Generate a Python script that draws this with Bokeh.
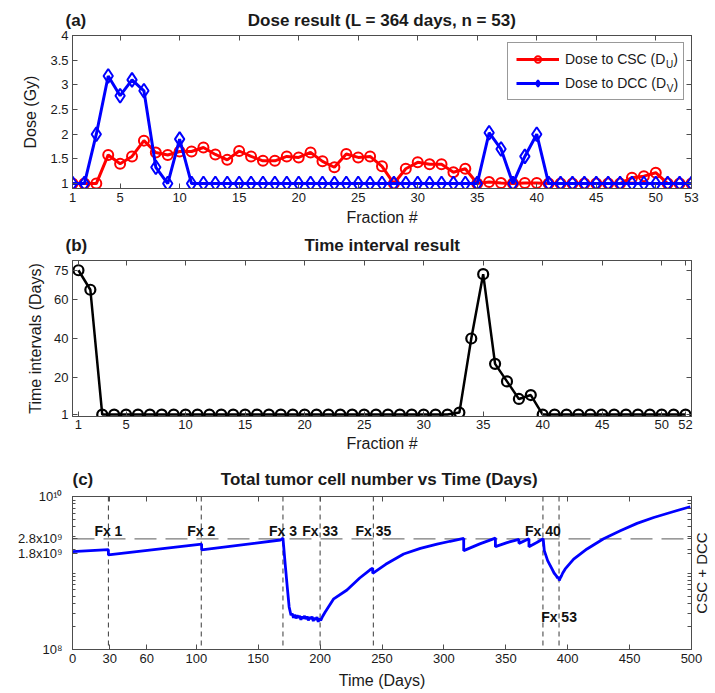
import math
from bokeh.plotting import figure
from bokeh.layouts import column
from bokeh.models import (Range1d, FixedTicker, LinearAxis, LogAxis, Legend, LegendItem,
                          Label, Span)
from bokeh.embed import file_html
from bokeh.resources import INLINE
from bokeh.core.properties import value

# ---------------- data ----------------
# (a) dose per fraction
fractions = list(range(1, 54))
dose_csc = [1.00, 1.00, 1.00, 1.58, 1.40, 1.55, 1.87, 1.63, 1.58, 1.65,
            1.65, 1.73, 1.59, 1.48, 1.66, 1.55, 1.46, 1.46, 1.55, 1.53,
            1.63, 1.45, 1.33, 1.60, 1.53, 1.55, 1.35, 1.00, 1.30, 1.43,
            1.39, 1.39, 1.23, 1.30, 1.00, 1.03, 1.01, 1.00, 1.01, 1.01,
            1.00, 1.00, 1.00, 1.00, 1.00, 1.00, 1.00, 1.12, 1.15, 1.22,
            1.00, 1.00, 1.00]
dose_dcc = [1.00, 1.00, 2.00, 3.18, 2.78, 3.10, 2.88, 1.33, 1.00, 1.90,
            1.00, 1.00, 1.00, 1.00, 1.00, 1.00, 1.00, 1.00, 1.00, 1.00,
            1.00, 1.00, 1.00, 1.00, 1.00, 1.00, 1.00, 1.00, 1.00, 1.00,
            1.00, 1.00, 1.00, 1.00, 1.00, 2.03, 1.70, 1.00, 1.55, 2.00,
            1.00, 1.00, 1.00, 1.00, 1.00, 1.00, 1.00, 1.00, 1.00, 1.00,
            1.00, 1.00, 1.00]
a_xticks = [1, 5, 10, 15, 20, 25, 30, 35, 40, 45, 50, 53]
a_yticks = [1, 1.5, 2, 2.5, 3, 3.5, 4]
a_ytick_labels = ["1", "1.5", "2", "2.5", "3", "3.5", "4"]

# (b) time intervals
interval_idx = list(range(1, 53))
intervals = [75, 65, 1, 1, 1, 1, 1, 1, 1, 1,
             1, 1, 1, 1, 1, 1, 1, 1, 1, 1,
             1, 1, 1, 1, 1, 1, 1, 1, 1, 1,
             1, 1, 2, 40, 73, 27, 18, 9, 11, 1,
             1, 1, 1, 1, 1, 1, 1, 1, 1, 1,
             1, 1]
b_xticks = [1, 5, 10, 15, 20, 25, 30, 35, 40, 45, 50, 52]
b_yticks = [1, 20, 40, 60, 75]

# (c) total tumour cells vs time
days = [0, 29, 29, 104.3, 104.3, 168, 170, 170.5, 172, 173.5, 175, 176.5,
        177.5, 178.5, 179.5, 180.5, 181.5, 182.5, 183.5, 184.5, 185.5, 186.5,
        187.5, 188.5, 189.5, 190.5, 191.5, 192.5, 193.5, 194.5, 195.5, 196.5,
        197.5, 198.5, 199.5, 200.5, 202, 204, 211, 221.7, 232, 240.6, 242.5,
        242.5, 253, 267.5, 281, 294.5, 305, 316, 316, 329, 341.6, 341.6, 351,
        360.6, 360.6, 368.7, 368.7, 375, 380.2, 381.1, 383.8, 387.3, 389,
        390.8, 391.8, 392.6, 393.2, 394, 395, 396, 398, 404.8, 415.6, 429,
        442.5, 456, 469.5, 483, 499]
cells = [1.90e9, 2.02e9, 1.72e9, 2.39e9, 2.00e9, 2.70e9, 2.86e9, 2.30e9, 1.20e9, 6.5e8, 3.6e8, 2.8e8,
         2.95e8, 2.60e8, 2.85e8, 2.55e8, 2.80e8, 2.60e8, 2.75e8, 2.45e8, 2.70e8, 2.55e8,
         2.75e8, 2.50e8, 2.70e8, 2.40e8, 2.65e8, 2.50e8, 2.70e8, 2.35e8, 2.60e8, 2.45e8,
         2.65e8, 2.30e8, 2.55e8, 2.40e8, 2.70e8, 3.07e8, 4.6e8, 6.0e8, 8.6e8, 1.11e9, 1.16e9,
         9.9e8, 1.30e9, 1.77e9, 2.10e9, 2.39e9, 2.60e9, 2.83e9, 1.96e9, 2.40e9, 2.86e9, 2.21e9, 2.50e9,
         2.75e9, 2.44e9, 2.80e9, 2.21e9, 2.50e9, 2.80e9, 1.96e9, 1.45e9, 1.13e9, 1.00e9,
         9.2e8, 8.6e8, 8.9e8, 8.0e8, 8.6e8, 9.2e8, 1.00e9, 1.13e9, 1.52e9, 2.06e9, 2.80e9,
         3.56e9, 4.45e9, 5.32e9, 6.18e9, 7.35e9]
fx_names = ["Fx 1", "Fx 2", "Fx 3", "Fx 33", "Fx 35", "Fx 40", "Fx 53"]
fx_days = [29, 104, 170, 200, 243, 380, 393]
fx_text_y = [3.56e9, 3.56e9, 3.56e9, 3.56e9, 3.56e9, 3.56e9, 2.64e8]
threshold = 2.8e9
c_xticks = [0, 30, 60, 100, 150, 200, 250, 300, 350, 400, 450, 500]
c_yticks = [1e8, 1.8e9, 2.8e9, 1e10]
c_ytick_labels = ["10\u2078", "1.8x10\u2079", "2.8x10\u2079", "10\u00b9\u2070"]
c_yminor = [2e8, 3e8, 4e8, 5e8, 6e8, 7e8, 8e8, 9e8, 1e9,
            2e9, 3e9, 4e9, 5e9, 6e9, 7e9, 8e9, 9e9]

# ---------------- style ----------------
FONT = "Liberation Sans"
AX = "#4d4d4d"
TXT = "#1a1a1a"
W = 715
LEFT = 72
FRAME_W = 619
EM, EN, NB = "\u2003", "\u2002", "\u00a0"


def style_axis(ax, label_standoff=4, axis_label_standoff=4):
    ax.axis_line_color = AX
    ax.major_tick_line_color = AX
    ax.minor_tick_line_color = AX
    ax.major_tick_in = 5
    ax.major_tick_out = 0
    ax.minor_tick_in = 3
    ax.minor_tick_out = 0
    ax.major_label_text_font = FONT
    ax.major_label_text_color = TXT
    ax.major_label_text_font_size = "13px"
    ax.major_label_standoff = label_standoff
    ax.axis_label_text_font = FONT
    ax.axis_label_text_font_size = "16px"
    ax.axis_label_text_font_style = "normal"
    ax.axis_label_text_color = TXT
    ax.axis_label_standoff = axis_label_standoff


def mirror_axis(p, side, positions, log=False, tick_len=5):
    # ticks only (drawn as minor ticks, so no tick labels are produced)
    t = FixedTicker(ticks=[], minor_ticks=positions)
    ax = LogAxis(ticker=t) if log else LinearAxis(ticker=t)
    ax.axis_line_color = AX
    ax.minor_tick_line_color = AX
    ax.minor_tick_in = tick_len
    ax.minor_tick_out = 0
    ax.major_tick_in = 0
    ax.major_tick_out = 0
    ax.major_label_standoff = 0
    p.add_layout(ax, side)
    return ax


def base_fig(height, top, bottom, x_range, y_range, title, tag_offset, lift,
             y_axis_type="linear"):
    p = figure(width=W, height=height, x_range=x_range, y_range=y_range,
               y_axis_type=y_axis_type, output_backend="svg", toolbar_location=None,
               min_border_left=LEFT, min_border_right=W - LEFT - FRAME_W,
               min_border_top=top, min_border_bottom=bottom, title=title)
    p.grid.visible = False
    p.outline_line_color = AX
    p.outline_line_width = 1
    p.background_fill_color = "white"
    p.title.text_font = FONT
    p.title.text_font_size = "17px"
    p.title.text_font_style = "bold"
    p.title.text_color = TXT
    p.title.align = "left"
    p.title.offset = tag_offset
    p.title.standoff = 2
    try:
        p.title.padding = dict(left=0, right=0, top=0, bottom=lift)
    except Exception:
        pass
    return p


# ---------------- panel (a) ----------------
pa = base_fig(230, 35, 42, Range1d(1, 53), Range1d(0.9, 4),
              "(a)" + EM * 9 + EN + "Dose result (L = 364 days, n = 53)", -7, 5)
pa.xaxis.ticker = FixedTicker(ticks=a_xticks)
pa.yaxis.ticker = FixedTicker(ticks=a_yticks)
pa.yaxis.major_label_overrides = dict(zip(a_yticks, a_ytick_labels))
pa.xaxis.axis_label = "Fraction #"
pa.yaxis.axis_label = "Dose (Gy)"
style_axis(pa.xaxis[0], label_standoff=4, axis_label_standoff=4)
style_axis(pa.yaxis[0], label_standoff=4, axis_label_standoff=8)
mirror_axis(pa, "above", a_xticks)
mirror_axis(pa, "right", a_yticks)

l1 = pa.line(fractions, dose_csc, line_color="#ff0000", line_width=3)
m1 = pa.scatter(fractions, dose_csc, marker="circle", size=10, line_color="#ff0000",
                line_width=2, fill_alpha=0)
l2 = pa.line(fractions, dose_dcc, line_color="#0000ff", line_width=3)
m2 = pa.scatter(fractions, dose_dcc, marker="diamond", size=14, line_color="#0000ff",
                line_width=2, fill_alpha=0)
leg = Legend(items=[LegendItem(label="Dose to CSC (D", renderers=[l1, m1]),
                    LegendItem(label="Dose to DCC (D", renderers=[l2, m2])],
             location="top_right", margin=7, padding=8, spacing=8,
             glyph_width=43, glyph_height=16, label_standoff=6, label_width=110,
             label_text_font=FONT, label_text_font_size="14px", label_text_color=TXT,
             border_line_color="#333333", border_line_width=1,
             background_fill_alpha=0)
pa.add_layout(leg)
# subscripts + closing parentheses of the legend labels (data units)
for sub, xs, ys, xp, yp in (("U", 50.86, 3.42, 51.46, 3.52), ("V", 50.92, 2.92, 51.48, 3.02)):
    pa.add_layout(Label(x=xs, y=ys, text=sub, text_font=FONT, text_font_size="10px",
                        text_color=TXT, text_align="left", text_baseline="middle",
                        level="overlay"))
    pa.add_layout(Label(x=xp, y=yp, text=")", text_font=FONT, text_font_size="14px",
                        text_color=TXT, text_align="left", text_baseline="middle",
                        level="overlay"))

# ---------------- panel (b) ----------------
pb = base_fig(226, 30, 40, Range1d(0.5, 52.5), Range1d(0, 80),
              "(b)" + EM * 12 + EN + NB + "Time interval result", -7, 5)
pb.xaxis.ticker = FixedTicker(ticks=b_xticks)
pb.yaxis.ticker = FixedTicker(ticks=b_yticks)
pb.xaxis.axis_label = "Fraction #"
pb.yaxis.axis_label = "Time intervals (Days)"
style_axis(pb.xaxis[0], label_standoff=3, axis_label_standoff=3)
style_axis(pb.yaxis[0], label_standoff=4, axis_label_standoff=7)
mirror_axis(pb, "above", b_xticks)
mirror_axis(pb, "right", b_yticks)
pb.line(interval_idx, intervals, line_color="black", line_width=2.5)
pb.scatter(interval_idx, intervals, marker="circle", size=10, line_color="black",
           line_width=2.2, fill_alpha=0)

# ---------------- panel (c) ----------------
pc = base_fig(237, 40, 44, Range1d(0, 500), Range1d(1e8, 1e10),
              "(c)" + EM * 7 + EN + "Total tumor cell number vs Time (Days)", 0, 7,
              y_axis_type="log")
pc.xaxis.ticker = FixedTicker(ticks=c_xticks)
pc.yaxis.ticker = FixedTicker(ticks=c_yticks, minor_ticks=c_yminor)
pc.yaxis.major_label_overrides = dict(zip(c_yticks, c_ytick_labels))
pc.xaxis.axis_label = "Time (Days)"
style_axis(pc.xaxis[0], label_standoff=4, axis_label_standoff=6)
style_axis(pc.yaxis[0], label_standoff=10)
mirror_axis(pc, "above", c_xticks)
mirror_axis(pc, "right", c_yticks + c_yminor, log=True, tick_len=4)
pc.add_layout(Label(x=10, y=153 / 2, x_units="screen", y_units="screen",
                    text="CSC + DCC", angle=90, angle_units="deg", text_font=FONT,
                    text_font_size="15px", text_color=TXT, text_align="center",
                    text_baseline="middle"), "right")

pc.add_layout(Span(location=threshold, dimension="width", line_color="#7a7a7a",
                   line_dash="22 9", line_width=1.3, level="underlay"))
for d in fx_days:
    pc.add_layout(Span(location=d, dimension="height", line_color="#3a3a3a",
                       line_dash="5 4", line_width=1, level="underlay"))
pc.line(days, cells, line_color="#0000ff", line_width=2.8)
pc.text(x=fx_days, y=fx_text_y, text=fx_names, text_align="center", text_baseline="middle",
        text_font=value(FONT), text_font_style="bold", text_font_size="14px",
        text_color="#111111")

layout = column(pa, pb, pc, spacing=0)
open("out.html", "w").write(file_html(layout, INLINE))
